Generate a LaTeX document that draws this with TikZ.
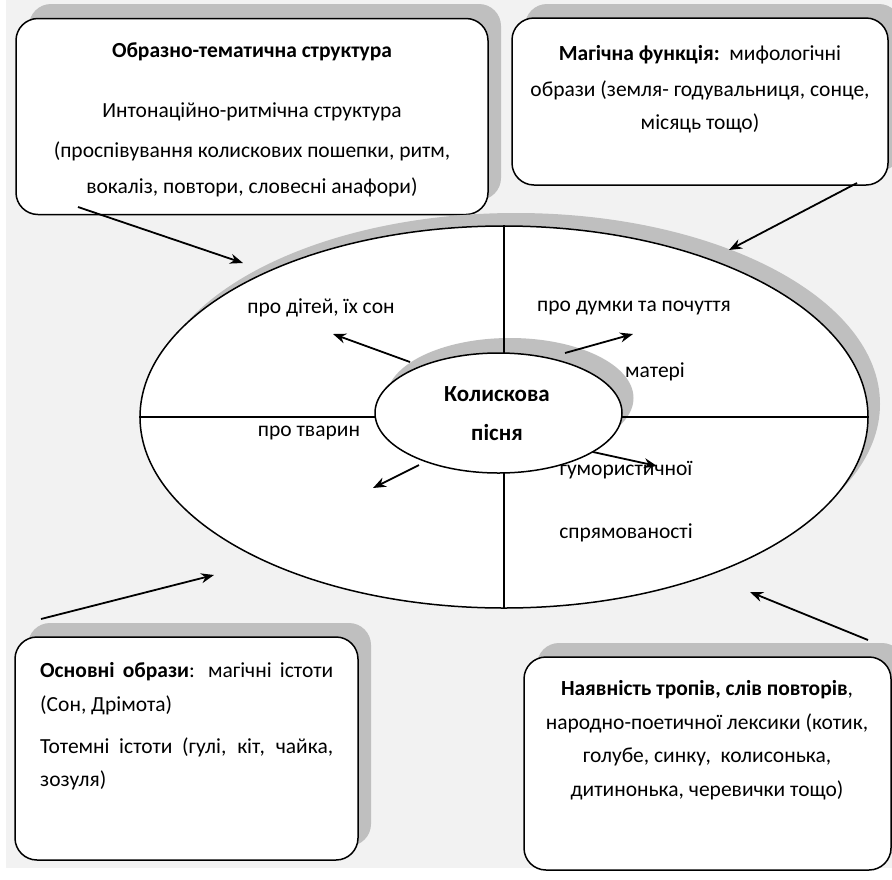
\documentclass[tikz,border=0pt]{standalone}
\usepackage{fontspec}
\setmainfont{Carlito}
\usetikzlibrary{shapes.geometric,arrows.meta}
\definecolor{bg}{HTML}{F2F2F2}
\definecolor{shade}{HTML}{BFBFBF}
\begin{document}
\begin{tikzpicture}[x=1pt,y=-1pt,
  box/.style={draw=black, line width=1.5pt, fill=white, rounded corners=22pt, inner sep=0pt},
  boxshadow/.style={fill=shade, rounded corners=22pt, inner sep=0pt},
  arr/.style={line width=1.8pt, -{Stealth[length=13pt,width=10pt]}},
  txt/.style={font=\fontsize{21.5}{25}\selectfont, inner sep=0pt},
  btxt/.style={font=\fontsize{21.5}{25}\selectfont\bfseries, inner sep=0pt},
  ctxt/.style={font=\fontsize{23}{27}\selectfont\bfseries, inner sep=0pt},
  ell/.style={ellipse, draw=black, line width=1.5pt, fill=white, inner sep=0pt},
  ellshadow/.style={ellipse, fill=shade, inner sep=0pt},
  ]
\useasboundingbox (0,0) rectangle (892,879);
\fill[bg] (6,0) rectangle (892,868);

% box shadows
\node[boxshadow, minimum width=472pt, minimum height=196pt] (tlsh) at (265,102) {};
\node[boxshadow, minimum width=376pt, minimum height=167pt] (trsh) at (713,87.5) {};
\node[boxshadow, minimum width=343pt, minimum height=223pt] (blsh) at (199.5,734.5) {};
\node[boxshadow, minimum width=367pt, minimum height=213pt] (brsh) at (720.5,749.5) {};

% boxes
\node[box, minimum width=472pt, minimum height=196pt] (tl) at (252,116.5) {};
\node[box, minimum width=376pt, minimum height=167pt] (tr) at (700,101.5) {};
\node[box, minimum width=343pt, minimum height=223pt] (bl) at (186.5,748.5) {};
\node[box, minimum width=367pt, minimum height=213pt] (br) at (707.5,763.5) {};

% big ellipse
\node[ellshadow, minimum width=728pt, minimum height=382pt] (bigsh) at (516,404) {};
\node[ell, minimum width=728pt, minimum height=382pt] (big) at (504,417) {};
% inner shadow
\node[ellshadow, minimum width=247pt, minimum height=120pt] (coresh) at (510,398) {};
% dividing lines
\draw[line width=1.3pt] (big.north) -- (big.south);
\draw[line width=1.3pt] (big.west) -- (big.east);
% inner ellipse
\node[ell, minimum width=247pt, minimum height=120pt] (core) at (498.5,413) {};

% center text
\node[ctxt] (c1) at (497,394) {Колискова};
\node[ctxt] (c2) at (497,433) {пісня};

% sector texts
\node[txt] (s1) at (321,308) {про дітей, їх сон};
\node[txt] (s2) at (634,308) {про думки та почуття};
\node[txt] (s2b) at (655,372) {матері};
\node[txt] (s3) at (309,433) {про тварин};
\node[txt] (s4) at (626,470) {гумористичної};
\node[txt] (s4b) at (626,533) {спрямованості};

% TL box text
\node[btxt] (tl1) at (252,52) {Образно-тематична структура};
\node[txt] (tl2) at (252,112) {Интонаційно-ритмічна структура};
\node[txt] (tl3) at (252,151) {(проспівування колискових пошепки, ритм,};
\node[txt] (tl4) at (252,187) {вокаліз, повтори, словесні анафори)};

% TR box text
\node[txt] (tr1) at (700,55) {\textbf{Магічна функція:}\ \ мифологічні};
\node[txt] (tr2) at (700,90) {образи (земля- годувальниця, сонце,};
\node[txt] (tr3) at (700,123) {місяць тощо)};

% BL box text
\node[txt, anchor=west] (bl1) at (40,672) {\makebox[293pt][s]{\textbf{Основні образи}: магічні істоти}};
\node[txt, anchor=west] (bl2) at (40,705) {(Сон, Дрімота)};
\node[txt, anchor=west] (bl3) at (40,747) {\makebox[293pt][s]{Тотемні істоти (гулі, кіт, чайка,}};
\node[txt, anchor=west] (bl4) at (40,780) {зозуля)};

% BR box text
\node[txt] (br1) at (707,690) {\textbf{Наявність тропів, слів повторів},};
\node[txt] (br2) at (707,723) {народно-поетичної лексики (котик,};
\node[txt] (br3) at (707,757) {голубе, синку,\ \ колисонька,};
\node[txt] (br4) at (707,790) {дитинонька, черевички тощо)};

% arrow coordinates
\coordinate (a1s) at (78,207);   \coordinate (a1e) at (243,263);
\coordinate (a2s) at (857,183);  \coordinate (a2e) at (729,250);
\coordinate (a3s) at (41,619);   \coordinate (a3e) at (214,575);
\coordinate (a4s) at (868,640);  \coordinate (a4e) at (750,592);
\coordinate (b1s) at (410,362);  \coordinate (b1e) at (333,334);
\coordinate (b2s) at (565,353);  \coordinate (b2e) at (633,334);
\coordinate (b3s) at (593,452);  \coordinate (b3e) at (657,466);
\coordinate (b4s) at (419,465);  \coordinate (b4e) at (373,488);

\draw[arr] (a1s) -- (a1e);
\draw[arr] (a2s) -- (a2e);
\draw[arr] (a3s) -- (a3e);
\draw[arr] (a4s) -- (a4e);
\draw[arr] (b1s) -- (b1e);
\draw[arr] (b2s) -- (b2e);
\draw[arr] (b3s) -- (b3e);
\draw[arr] (b4s) -- (b4e);
\end{tikzpicture}
\end{document}
